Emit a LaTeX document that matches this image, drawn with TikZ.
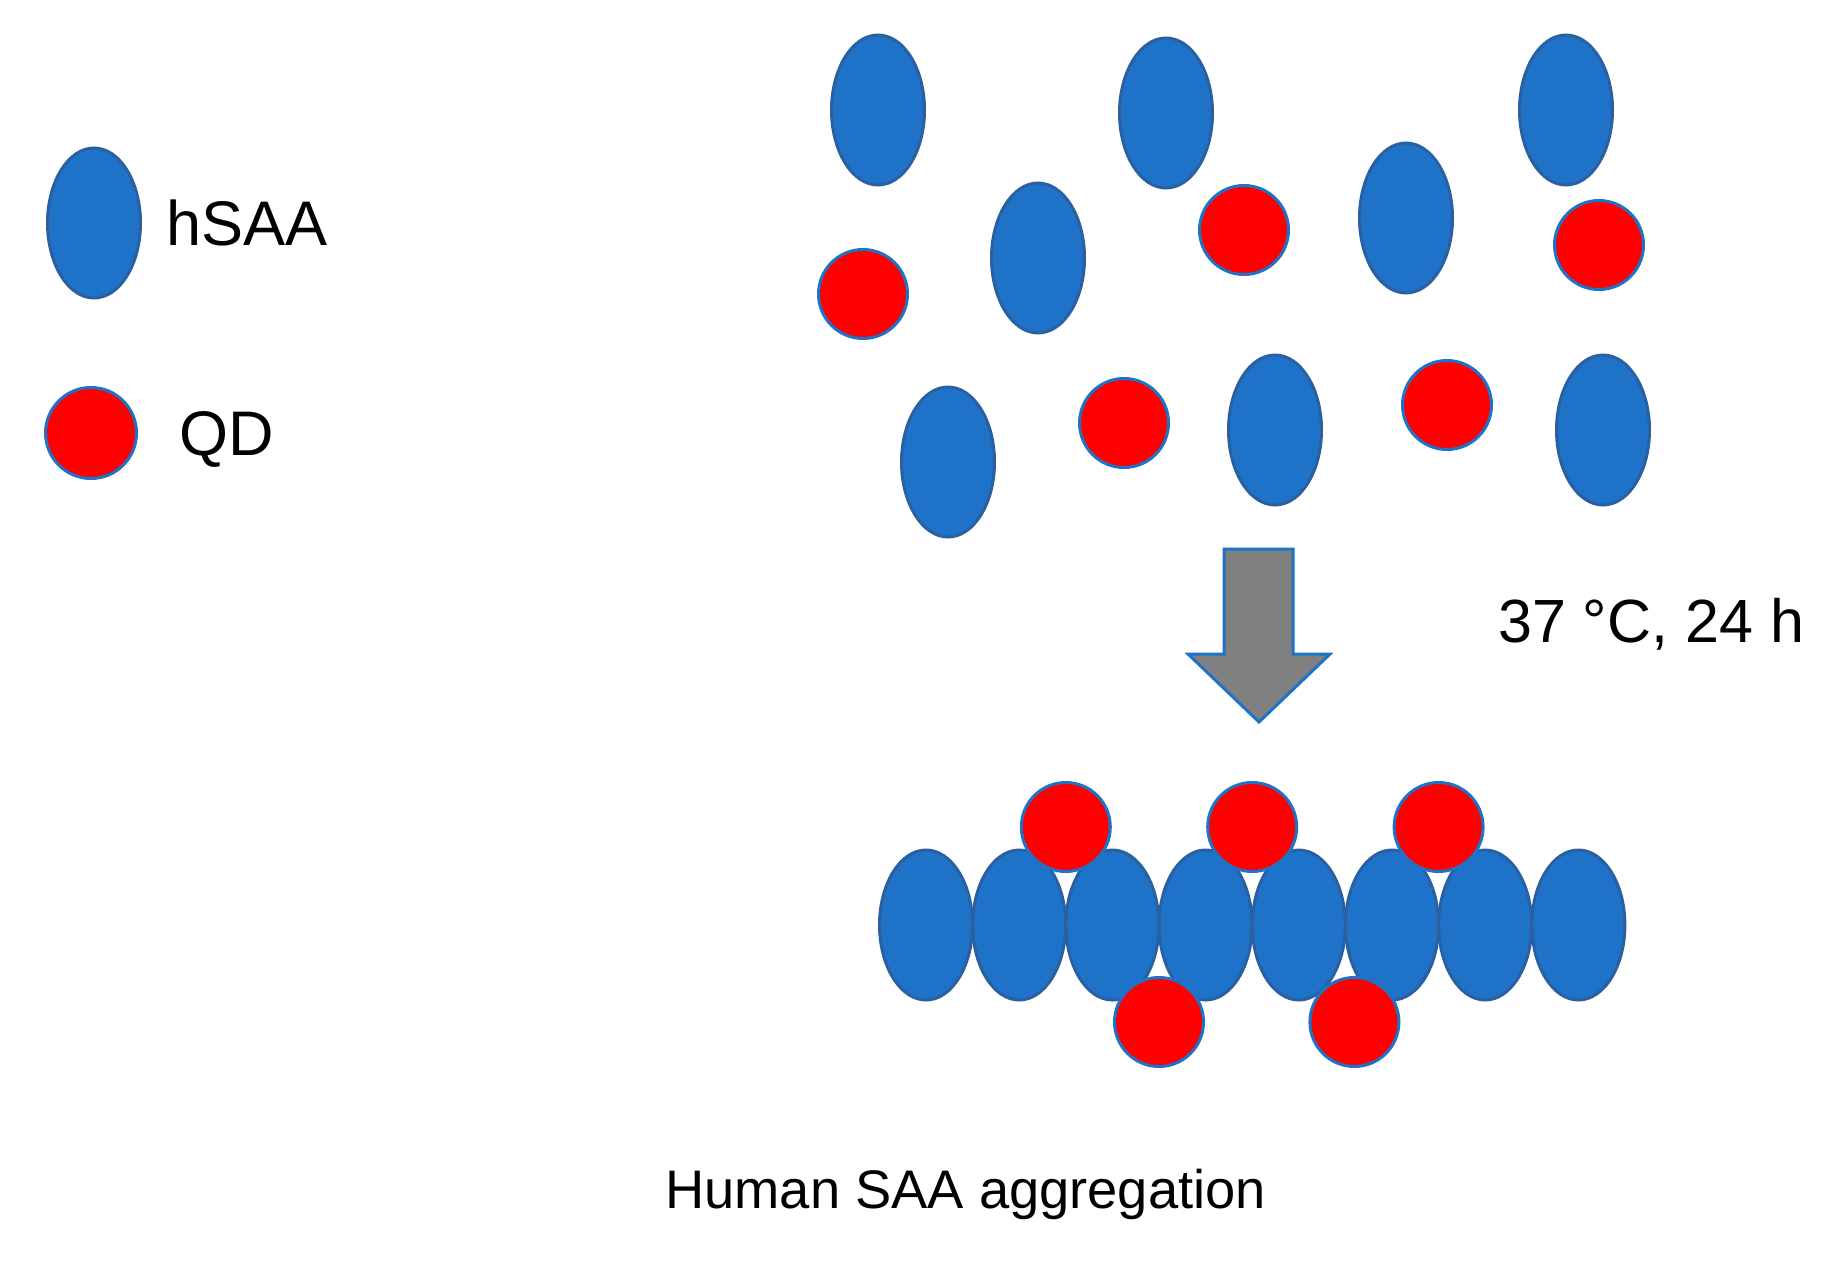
\documentclass[tikz,border=0pt]{standalone}
\usepackage{fontspec}
\setmainfont{Liberation Sans}
\usepackage{tikz}
\usetikzlibrary{shapes.geometric, calc}

\definecolor{saablue}{RGB}{30,115,200}
\definecolor{rimblue}{RGB}{42,96,162}
\definecolor{qdred}{RGB}{255,0,0}
\definecolor{arrgray}{RGB}{128,128,128}

\begin{document}
\begin{tikzpicture}[
  x=1pt, y=-1pt,
  saa/.style={ellipse, draw=rimblue, line width=3pt, fill=saablue, inner sep=0pt, minimum width=93pt, minimum height=150pt},
  qd/.style={circle, draw=saablue, line width=3pt, fill=qdred, inner sep=0pt, minimum size=89pt},
  lbl/.style={font=\fontsize{63}{70}\selectfont, anchor=base west, inner sep=0pt}
]
  \useasboundingbox (0,0) rectangle (1821,1264);

  % legend
  \node[saa] (keysaa) at (94,223) {};
  \node[qd, minimum size=91pt] (keyqd) at (91,433) {};
  \node[lbl] (keysaatxt) at (166,245) {hSAA};
  \node[lbl] (keyqdtxt) at (179,455) {QD};

  % free hSAA and QD before incubation
  \node[saa] (s1) at (878,110) {};
  \node[saa] (s2) at (1166,113) {};
  \node[saa] (s3) at (1566,110) {};
  \node[saa] (s4) at (1038,258) {};
  \node[saa] (s5) at (1406,218) {};
  \node[saa] (s6) at (948,462) {};
  \node[saa] (s7) at (1275,430) {};
  \node[saa] (s8) at (1603,430) {};
  \node[qd] (q1) at (863,294) {};
  \node[qd] (q2) at (1244,230) {};
  \node[qd] (q3) at (1599,245) {};
  \node[qd] (q4) at (1124,423) {};
  \node[qd] (q5) at (1447,405) {};

  % incubation arrow
  \draw[draw=saablue, line width=3pt, fill=arrgray, line join=miter]
    (1224,549) -- (1293,549) -- (1293,654) -- (1330,654) -- (1259,722)
    -- (1188,654) -- (1224,654) -- cycle;
  \node[lbl, font=\fontsize{61}{66}\selectfont] (cond) at (1498,642) {37 °C, 24 h};

  % aggregate
  \foreach \i in {0,...,7}
    \node[saa] (agg\i) at ({926+93.2*\i},925) {};
  \foreach \a/\b in {1/2, 3/4, 5/6}
    \node[qd] (top\a) at ($(agg\a)!0.5!(agg\b)+(0,-98)$) {};
  \node[qd] (bot2) at ($(agg2)!0.5!(agg3)+(0,97)$) {};
  \node[qd] (bot4) at ($(agg4)!0.5!(agg5)+(9,97)$) {};

  \node[lbl, font=\fontsize{54.3}{62}\selectfont] (title) at (665,1208) {Human SAA aggregation};
\end{tikzpicture}
\end{document}
